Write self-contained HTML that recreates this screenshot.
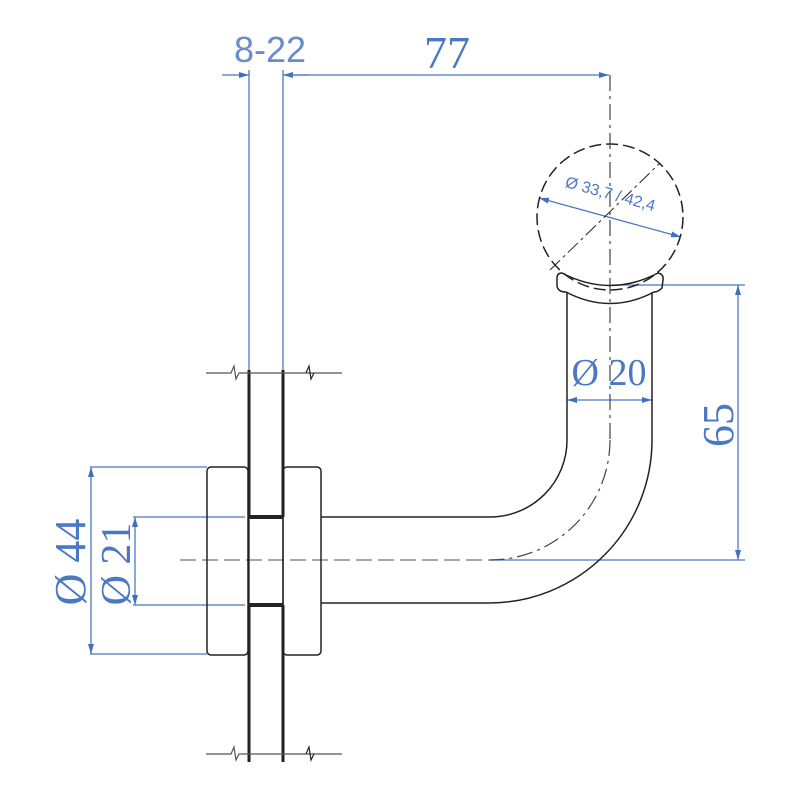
<!DOCTYPE html>
<html><head><style>body{margin:0;background:#fff}svg{display:block}</style></head><body>
<svg width="800" height="800" xmlns="http://www.w3.org/2000/svg">
<defs>
<marker id="a" viewBox="0 0 10 6" refX="10" refY="3" markerWidth="10" markerHeight="6" markerUnits="userSpaceOnUse" orient="auto-start-reverse"><path d="M0,0L10,3L0,6z" fill="#3f6fbf"/></marker>
</defs>
<g stroke="#4a78c4" stroke-width="1.3" fill="none">
<line x1="249" y1="70" x2="249" y2="370"/>
<line x1="283" y1="70" x2="283" y2="370"/>
<line x1="222" y1="75" x2="249" y2="75" marker-end="url(#a)"/>
<line x1="309" y1="75" x2="283" y2="75" marker-end="url(#a)"/>
<line x1="283" y1="75" x2="609" y2="75" marker-end="url(#a)"/>
<line x1="90" y1="467" x2="207" y2="467"/>
<line x1="90" y1="654" x2="207" y2="654"/>
<line x1="91" y1="467" x2="91" y2="654" marker-start="url(#a)" marker-end="url(#a)"/>
<line x1="133" y1="517" x2="245" y2="517"/>
<line x1="133" y1="605" x2="245" y2="605"/>
<line x1="135" y1="517" x2="135" y2="605" marker-start="url(#a)" marker-end="url(#a)"/>
<line x1="612" y1="285" x2="745" y2="285"/>
<line x1="490" y1="560" x2="745" y2="560"/>
<line x1="738" y1="285" x2="738" y2="560" marker-start="url(#a)" marker-end="url(#a)"/>
<line x1="567" y1="400" x2="652" y2="400" marker-start="url(#a)" marker-end="url(#a)"/>
<line x1="539" y1="198" x2="681" y2="237" marker-start="url(#a)" marker-end="url(#a)"/>
</g>
<g fill="#4a78c4">
<text x="270" y="62" font-family="Liberation Sans, sans-serif" font-size="36" text-anchor="middle" fill="#6a8cc8">8-22</text>
<text x="447" y="68" font-family="Liberation Serif, serif" font-size="46" text-anchor="middle">77</text>
<text x="609" y="385" font-family="Liberation Serif, serif" font-size="38" text-anchor="middle">Ø 20</text>
<text transform="translate(733,425) rotate(-90)" font-family="Liberation Serif, serif" font-size="44" text-anchor="middle">65</text>
<text transform="translate(85,562) rotate(-90)" font-family="Liberation Serif, serif" font-size="44" text-anchor="middle">Ø 44</text>
<text transform="translate(130,564) rotate(-90)" font-family="Liberation Serif, serif" font-size="42" text-anchor="middle">Ø 21</text>
<text transform="translate(609,199) rotate(15.3)" font-family="Liberation Sans, sans-serif" font-size="16" text-anchor="middle">Ø 33,7 / 42,4</text>
</g>
<g stroke="#222" fill="none" stroke-width="1.5">
<circle cx="610" cy="217" r="73" stroke-dasharray="12,5"/>
<line x1="550" y1="270" x2="660" y2="163" stroke-dasharray="14,4,3,4" stroke-width="1"/>
<line x1="610" y1="75" x2="610" y2="440" stroke-dasharray="16,5,3,5" stroke-width="1.2" stroke="#444"/>
<path d="M610,440 A120,120 0 0 1 490,560" stroke-dasharray="16,5,3,5" stroke-width="1.2" stroke="#444"/>
<line x1="180" y1="560" x2="490" y2="560" stroke-dasharray="16,6" stroke="#777" stroke-width="1.2"/>
<path d="M562,273 Q610,298 658,273 Q664,274 663,280 L662,288 Q658,292 654,292 Q610,315 566,292 Q558,292 557,286 L557,278 Q557,273 562,273z"/>
<path d="M567,292 L567,440 A77,77 0 0 1 490,517 L321,517"/>
<path d="M652,292 L652,440 A163,163 0 0 1 490,603 L321,603"/>
<rect x="207" y="467" width="41" height="188" rx="4"/>
<rect x="283" y="467" width="38" height="188" rx="4"/>
<line x1="249" y1="517" x2="283" y2="517" stroke-width="4"/>
<line x1="249" y1="605" x2="283" y2="605" stroke-width="4"/>
<line x1="249" y1="370" x2="249" y2="517" stroke-width="3"/>
<line x1="283" y1="370" x2="283" y2="517" stroke-width="3"/>
<line x1="249" y1="605" x2="249" y2="762" stroke-width="3"/>
<line x1="283" y1="605" x2="283" y2="762" stroke-width="3"/>
<line x1="249" y1="517" x2="249" y2="605" stroke-width="1.3"/>
<line x1="283" y1="517" x2="283" y2="605" stroke-width="1.3"/>
<g stroke="#555" stroke-width="1.2">
<path d="M206,373 L231,373 L234,366 L236,379 L239,373 L342,373"/>
<path d="M306,373 L309,366 L311,379 L314,373" stroke="#222"/>
<path d="M206,754 L231,754 L234,747 L236,760 L239,754 L342,754"/>
<path d="M306,754 L309,747 L311,760 L314,754" stroke="#222"/>
</g>
</g>
</svg>
</body></html>
